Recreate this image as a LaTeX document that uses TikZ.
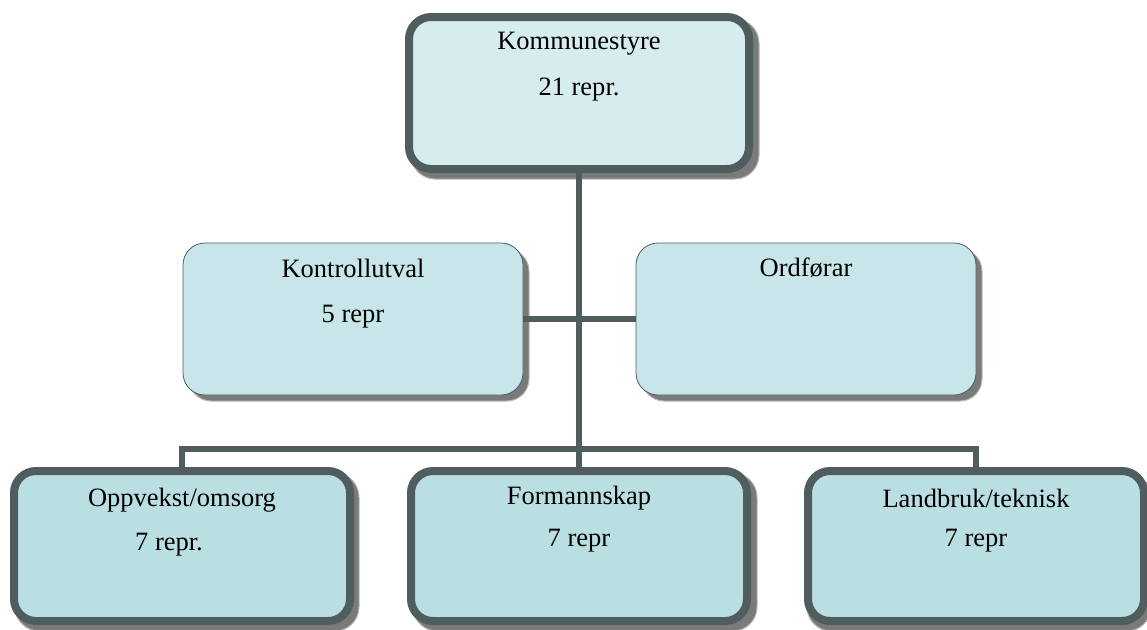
\documentclass[tikz,border=0pt]{standalone}
\usepackage{fontspec}
\setmainfont{Liberation Serif}
\definecolor{bord}{HTML}{4F5D5E}
\definecolor{filltop}{HTML}{D6ECEF}
\definecolor{fillmid}{HTML}{C8E6E9}
\definecolor{fillbot}{HTML}{BADFE2}
\definecolor{shad}{HTML}{7A7A7A}
\begin{document}
\begin{tikzpicture}[x=1pt,y=-1pt,
  thickbox/.style={draw=bord,line width=8pt,rounded corners=22pt,minimum width=336pt,minimum height=150pt,inner sep=0pt},
  thinbox/.style={draw=bord,line width=0.8pt,rounded corners=22pt,minimum width=340pt,minimum height=152pt,inner sep=0pt},
  shadowbox/.style={fill=shad,draw=gray!55,line width=1pt,rounded corners=24pt,inner sep=0pt},
  lbl/.style={font=\fontsize{26.5}{30}\selectfont,inner sep=0pt,anchor=center},
  conn/.style={draw=bord,line width=6pt}]
\useasboundingbox (0,0) rectangle (1147,629);
% shadows
\node[shadowbox,minimum width=348pt,minimum height=160pt] at (585,99) {};
\node[shadowbox,minimum width=340pt,minimum height=152pt,rounded corners=22pt] at (359,325) {};
\node[shadowbox,minimum width=340pt,minimum height=152pt,rounded corners=22pt] at (812,325) {};
\node[shadowbox,minimum width=344pt,minimum height=158pt] at (187,552) {};
\node[shadowbox,minimum width=344pt,minimum height=158pt] at (585,552) {};
\node[shadowbox,minimum width=344pt,minimum height=158pt] at (979,552) {};
\coordinate (busL) at (182,449);
\coordinate (busR) at (976,449);
% boxes
\node[thickbox,fill=filltop,minimum width=340pt,minimum height=152pt] (top) at (579,93) {};
\node[thinbox,fill=fillmid] (kontroll) at (353,319) {};
\node[thinbox,fill=fillmid] (ordf) at (806,319) {};
\node[thickbox,fill=fillbot] (opp) at (182,546) {};
\node[thickbox,fill=fillbot] (form) at (579,546) {};
\node[thickbox,fill=fillbot] (land) at (976,546) {};
% connectors
\draw[conn] (top.south) -- (form.north);
\draw[conn] (kontroll.east) -- (ordf.west);
\draw[conn,line cap=rect] (opp.north) -- (busL) -- (busR) -- (land.north);
% labels
\node[lbl] (t1) at (579,44) {Kommunestyre};
\node[lbl] (t2) at (579,90) {21 repr.};
\node[lbl] (k1) at (353,268) {Kontrollutval};
\node[lbl] (k2) at (353,317) {5 repr};
\node[lbl] (o1) at (806,268) {Ordførar};
\node[lbl] (b1) at (182,500) {Oppvekst/omsorg};
\node[lbl] (b2) at (169,545) {7 repr.};
\node[lbl] (f1) at (579,498) {Formannskap};
\node[lbl] (f2) at (579,541) {7 repr};
\node[lbl] (l1) at (976,498) {Landbruk/teknisk};
\node[lbl] (l2) at (976,541) {7 repr};
\end{tikzpicture}
\end{document}
